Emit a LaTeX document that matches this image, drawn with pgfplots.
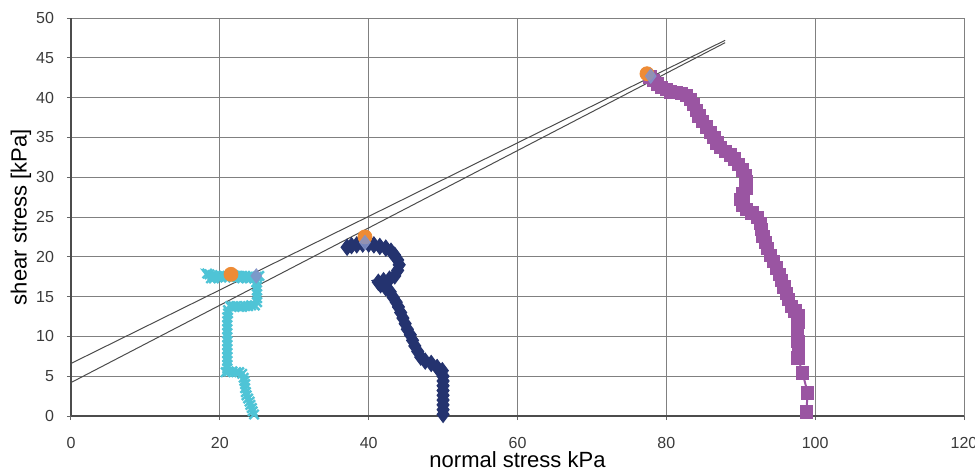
\documentclass[border=0pt]{standalone}
\usepackage{fontspec}
\setmainfont{Liberation Sans}
\usepackage{pgfplots}
\pgfplotsset{compat=1.18}
\definecolor{cyanS}{HTML}{4FC4D6}
\definecolor{navyS}{HTML}{24336F}
\definecolor{purpS}{HTML}{9A55A2}
\definecolor{orngS}{HTML}{EE8B35}
\definecolor{lavS}{HTML}{8393C9}
\definecolor{tickC}{HTML}{3A3A3A}
\begin{document}
\begin{tikzpicture}
\begin{axis}[
  at={(0,0)}, anchor=south west,
  scale only axis, width=446.5pt, height=199pt,
  xmin=0, xmax=120, ymin=0, ymax=50,
  xtick={0,20,...,120}, ytick={0,5,...,50},
  axis lines=left, axis line style={-, draw=black!70, line width=0.6pt},
  grid=major, major grid style={draw=black!50, line width=0.5pt},
  tick align=outside, major tick length=2pt, tick style={draw=black!60, line width=0.5pt},
  /pgf/number format/assume math mode=true,
  ticklabel style={font=\fontsize{8}{9}\selectfont, text=tickC},
  xticklabel style={yshift=-5pt},
  yticklabel style={xshift=-3pt},
  xlabel={normal stress kPa}, ylabel={shear stress [kPa]},
  label style={font=\fontsize{11}{12}\selectfont},
  xlabel style={at={(axis description cs:0.5,0)}, anchor=center, yshift=-22pt},
  ylabel style={at={(axis description cs:0,0.5)}, anchor=center, yshift=25pt},
  clip=false,
]
% fit lines
\addplot[draw=black!70, line width=0.5pt] coordinates {(0,6.6) (87.9,47.2)};
\addplot[draw=black!70, line width=0.5pt] coordinates {(0,4.2) (87.9,46.9)};
% cyan series
\addplot[color=cyanS, line width=2.5pt, mark=x, mark size=3.3pt, mark options={line width=1.2pt}] coordinates {
(24.6,0.2) (24.4,0.6) (24.3,1.0) (24.1,1.4) (24.0,1.8) (23.8,2.2) (23.6,2.6) (23.5,3.0) (23.4,3.5) (23.4,4.0)
(23.3,4.4) (23.2,4.8) (23.0,5.3) (22.6,5.5) (22.2,5.5) (21.7,5.6) (21.2,5.6) (20.8,5.5) (21.0,6.0) (21.0,6.4)
(21.0,6.9) (21.0,7.4) (21.0,7.9) (21.0,8.4) (21.0,8.9) (21.0,9.4) (21.0,9.9) (21.0,10.4) (21.0,10.9) (21.0,11.4)
(21.0,11.9) (21.0,12.4) (21.1,12.9) (21.1,13.3) (21.4,13.8) (21.8,13.8) (22.2,13.8) (22.6,13.7) (23.0,13.7)
(23.4,13.8) (23.8,13.8) (24.2,13.9) (24.7,13.9) (25.0,14.3) (25.0,14.8) (25.0,15.3) (25.0,15.8) (25.0,16.3)
(24.9,16.8) (24.6,17.3) (24.2,17.4) (23.8,17.5) (23.4,17.6) (23.0,17.6) (22.6,17.6) (22.2,17.6) (21.8,17.7)
(21.4,17.7) (21.0,17.6) (20.6,17.6) (20.2,17.5) (19.8,17.5) (19.4,17.6) (19.0,17.7) (18.6,17.8) (18.3,17.9)
(18.8,17.3) (19.2,17.3) (19.7,17.4) (20.2,17.4) (20.7,17.5) (21.2,17.5) (21.8,17.4) (22.4,17.4) (23.0,17.3)
(23.6,17.3) (24.1,17.4) (24.6,17.4) (25.0,17.5) (25.3,17.6)
};
% navy series
\addplot[color=navyS, line width=4pt, mark=diamond*, mark size=4pt, mark options={line width=0.5pt}] coordinates {
(50,0.2) (50,0.8) (50,1.4) (50,2.0) (50,2.6) (50,3.2) (50,3.8) (50,4.4) (50,5.0) (49.9,5.7)
(49.2,6.1) (48.4,6.6) (47.6,6.9) (47.0,7.4) (46.6,8.1) (46.2,8.8) (45.9,9.5) (45.6,10.2)
(45.2,10.9) (44.9,11.6) (44.6,12.3) (44.3,13.0) (44.0,13.7) (43.7,14.3) (43.3,14.9) (42.9,15.6)
(42.3,16.1) (41.6,16.5) (41.3,16.8) (42.0,17.0) (42.8,17.2) (43.5,17.6) (43.9,18.3) (44.1,19.0)
(43.9,19.6) (43.5,20.2) (43.0,20.7) (42.3,21.1) (41.5,21.3) (40.7,21.5) (40.0,21.6) (39.2,21.6)
(38.4,21.5) (37.7,21.4) (37.1,21.2)
};
% purple series
\addplot[color=purpS, line width=1pt, mark=square*, mark size=2.8pt] coordinates {
(77.8,42.6) (78.3,42.1) (78.8,41.7) (79.4,41.3) (80.0,41.0) (80.6,40.7) (81.3,40.6) (82.0,40.5)
(82.7,40.3) (83.2,39.8) (83.6,39.1) (84.0,38.4) (84.4,37.7) (84.9,37.0) (85.4,36.3) (85.9,35.6)
(86.4,35.0) (86.8,34.3) (87.3,33.7) (87.9,33.2) (88.6,32.8) (89.2,32.3) (89.7,31.6) (90.2,30.9)
(90.6,30.2) (90.8,29.4) (90.7,28.6) (90.3,27.9) (90.0,27.2) (90.3,26.5) (90.8,25.9) (91.5,25.5)
(92.2,24.9) (92.6,24.2) (92.8,23.4) (93.0,22.6) (93.3,21.8) (93.6,21.0) (94.0,20.2) (94.4,19.4)
(94.8,18.6) (95.2,17.8) (95.5,17.0) (95.8,16.2) (96.1,15.4) (96.4,14.6) (96.8,13.8) (97.3,13.2)
(97.8,12.6) (97.7,11.8) (97.6,11.0) (97.6,10.2) (97.7,9.4) (97.8,8.6) (97.7,7.3) (98.3,5.4)
(99.0,2.9) (98.8,0.5)
};
% peak points
\addplot[only marks, mark=*, mark size=3.5pt, color=orngS] coordinates {(21.5,17.8) (39.5,22.5) (77.4,43.0)};
\addplot[only marks, mark=diamond*, mark size=3.6pt, color=lavS, fill opacity=0.85, draw opacity=0.85] coordinates {(24.9,17.6) (39.5,21.8) (77.9,42.7)};
\end{axis}
\pgfresetboundingbox
\path[use as bounding box] (-35.5pt,-28.5pt) rectangle (452pt,208pt);
\end{tikzpicture}
\end{document}
